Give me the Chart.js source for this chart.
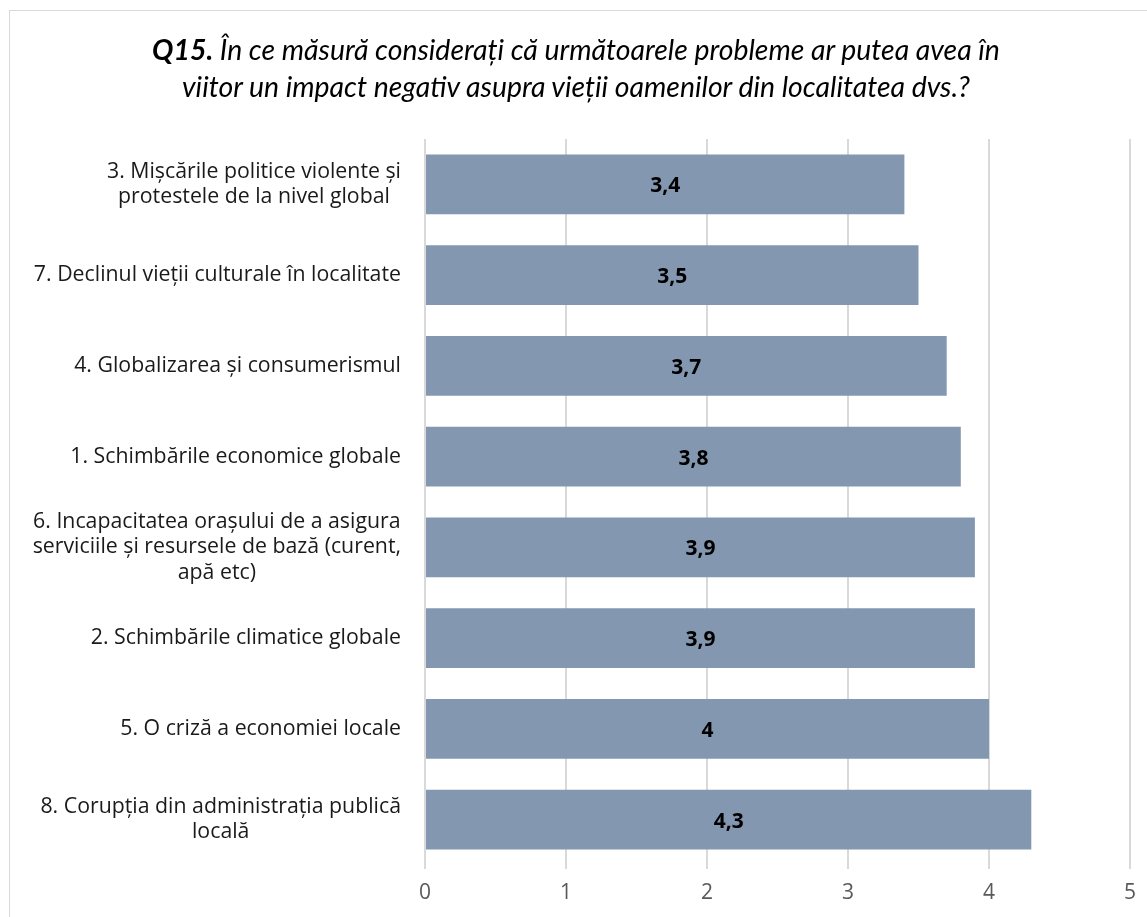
<!DOCTYPE html>
<html>
<head>
<meta charset="utf-8">
<script src="https://cdn.jsdelivr.net/npm/chart.js@4"></script>
<style>
  body { margin: 0; background: #fff; }
  #wrap { position: relative; width: 1147px; height: 917px; overflow: hidden; }
  #frame { position: absolute; left: 9px; top: 10px; width: 1200px; height: 1000px; border: 1px solid #d9d9d9; }
  #title { position: absolute; left: 0; top: 31px; width: 1152px; text-align: center;
           font-family: Lato, sans-serif; font-style: italic; font-size: 28.4px; line-height: 37px; color: #000; }
  #chart { position: absolute; left: 0; top: 0; }
</style>
</head>
<body>
<div id="wrap">
  <div id="frame"></div>
  <canvas id="chart" width="1147" height="917"></canvas>
  <div id="title"><b>Q15.</b> În ce măsură considerați că următoarele probleme ar putea avea în<br>viitor un impact negativ asupra vieții oamenilor din localitatea dvs.?</div>
</div>
<script>
// categories, top to bottom
var categories = [
    ['3. Mișcările politice violente și', 'protestele de la nivel global'],
    ['7. Declinul vieții culturale în localitate'],
    ['4. Globalizarea și consumerismul'],
    ['1. Schimbările economice globale'],
    ['6. Incapacitatea orașului de a asigura', 'serviciile și resursele de bază (curent,', 'apă etc)'],
    ['2. Schimbările climatice globale'],
    ['5. O criză a economiei locale'],
    ['8. Corupția din administrația publică', 'locală']
];
var scores = [3.4, 3.5, 3.7, 3.8, 3.9, 3.9, 4.0, 4.3];
var xTicks = [0, 1, 2, 3, 4, 5];

var labelFont = '21.3px "Open Sans", sans-serif';

// y labels: block right aligned, lines centered inside the block
var catLabels = {
    id: 'catLabels',
    afterDraw(chart) {
        var ctx = chart.ctx, y = chart.scales.y;
        ctx.save();
        ctx.font = labelFont;
        ctx.fillStyle = '#1a1a1a';
        ctx.textAlign = 'center';
        ctx.textBaseline = 'middle';
        var right = y.right - 24;
        categories.forEach(function (lines, i) {
            var w = 0;
            lines.forEach(function (l) { w = Math.max(w, ctx.measureText(l).width); });
            var cy = y.getPixelForTick(i);
            var lh = 25.5;
            var y0 = cy - (lines.length - 1) * lh / 2;
            lines.forEach(function (l, k) { ctx.fillText(l, right - w / 2, y0 + k * lh); });
        });
        ctx.restore();
    }
};

// value labels in the middle of each bar
var valueLabels = {
    id: 'valueLabels',
    afterDatasetsDraw(chart) {
        var ctx = chart.ctx;
        var meta = chart.getDatasetMeta(0);
        ctx.save();
        ctx.font = 'bold 21px "Open Sans", sans-serif';
        ctx.fillStyle = '#000';
        ctx.textAlign = 'center';
        ctx.textBaseline = 'middle';
        meta.data.forEach(function (bar, i) {
            var txt = String(scores[i]).replace('.', ',');
            ctx.fillText(txt, (bar.x + bar.base) / 2, bar.y + 2);
        });
        ctx.restore();
    }
};

new Chart(document.getElementById('chart'), {
    type: 'bar',
    data: {
        labels: categories.map(function (c) { return c.join(' '); }),
        datasets: [{
            data: scores,
            backgroundColor: '#8497b0',
            barPercentage: 0.66,
            categoryPercentage: 1
        }]
    },
    options: {
        indexAxis: 'y',
        responsive: false,
        animation: false,
        layout: { padding: { top: 139, right: 16, left: 0, bottom: 0 } },
        plugins: { legend: { display: false }, tooltip: { enabled: false } },
        scales: {
            x: {
                min: 0,
                max: 5,
                afterBuildTicks: function (s) { s.ticks = xTicks.map(function (v) { return { value: v }; }); },
                afterFit: function (s) { s.height = 52; },
                grid: { color: '#d9d9d9', lineWidth: 2, tickLength: 4 },
                border: { display: false },
                ticks: { color: '#595959', font: { family: '"Open Sans", sans-serif', size: 21 }, padding: 11 }
            },
            y: {
                afterFit: function (s) { s.width = 425; },
                grid: { display: false },
                border: { display: false },
                ticks: { display: false }
            }
        }
    },
    plugins: [catLabels, valueLabels]
});
</script>
</body>
</html>
